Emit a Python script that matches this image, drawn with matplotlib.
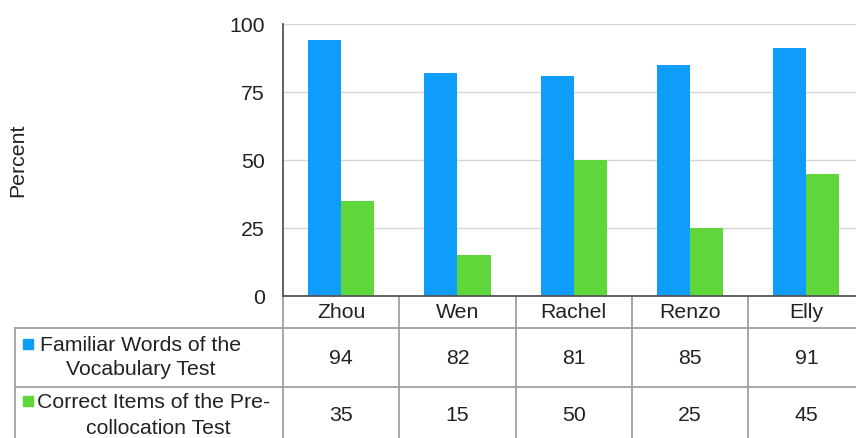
import matplotlib
matplotlib.use("Agg")
import matplotlib.pyplot as plt
import matplotlib.transforms as mtransforms
import numpy as np

plt.rcParams['font.family'] = ['Liberation Sans', 'DejaVu Sans']

categories = ["Zhou", "Wen", "Rachel", "Renzo", "Elly"]
familiar = [94, 82, 81, 85, 91]
correct = [35, 15, 50, 25, 45]
series_labels = [["Familiar Words of the", "Vocabulary Test"],
                 ["Correct Items of the Pre-", "collocation Test"]]
yticks = [0, 25, 50, 75, 100]

BLUE = "#0F9DFC"
GREEN = "#5FD63A"
LINE = "#A0A0A0"
W, H = 856, 439
FS = 15.3

fig = plt.figure(figsize=(W / 100, H / 100), dpi=100)
ax = fig.add_axes([283 / W, 1 - 297 / H, 573 / W, 272 / H])
colw_px = 116.3
ax.set_xlim(-0.5, -0.5 + 573 / colw_px)
ax.set_ylim(0, 100)

x = np.arange(len(categories))
bw = 0.285
ax.bar(x - bw / 2, familiar, width=bw, color=BLUE, zorder=3)
ax.bar(x + bw / 2, correct, width=bw, color=GREEN, zorder=3)

ax.set_yticks(yticks)
ax.set_yticklabels([str(v) for v in yticks], fontsize=FS, color="#222222")
ax.tick_params(axis='y', length=0, pad=13)
ax.set_xticks([])
ax.grid(axis='y', color="#D6D6D6", linewidth=1.0, zorder=0)
for s in ["top", "right"]:
    ax.spines[s].set_visible(False)
ax.spines["left"].set_color("#555555")
ax.spines["left"].set_linewidth(1.3)
ax.spines["bottom"].set_color("#555555")
ax.spines["bottom"].set_linewidth(1.3)
ax.spines["left"].set_zorder(5)
ax.spines["bottom"].set_zorder(5)

fig.text(18 / W, 1 - 160 / H, "Percent", rotation=90, fontsize=FS,
         ha='center', va='center', color="#222222")

# table overlay in pixel coordinates
tab = fig.add_axes([0, 0, 1, 1], zorder=-1)
tab.set_xlim(0, W)
tab.set_ylim(H, 0)
tab.axis('off')
tab.patch.set_alpha(0)
bt = mtransforms.blended_transform_factory(ax.transData, tab.transData)

for yy in [329, 388]:
    tab.plot([15, W], [yy, yy], color=LINE, lw=1.3, clip_on=False)
tab.plot([15, 15], [329, H], color=LINE, lw=1.3)
tab.plot([283, 283], [297, H], color=LINE, lw=1.3)
for i in range(len(categories)):
    bx = i + 0.5
    tab.plot([bx, bx], [297, H], color=LINE, lw=1.3, transform=bt)

for i, c in enumerate(categories):
    tab.text(i, 313, c, transform=bt, ha='center', va='center', fontsize=FS, color="#222222")
    tab.text(i, 359, str(familiar[i]), transform=bt, ha='center', va='center', fontsize=FS, color="#222222")
    tab.text(i, 416, str(correct[i]), transform=bt, ha='center', va='center', fontsize=FS, color="#222222")

row_cfg = [(BLUE, 340, (141, 141), (346, 370)), (GREEN, 397, (153.5, 158), (403, 429))]
for (col, sq_y, cxs, ys), lines in zip(row_cfg, series_labels):
    tab.add_patch(plt.Rectangle((23, sq_y), 10, 10, color=col))
    for cxp, yy, t in zip(cxs, ys, lines):
        tab.text(cxp, yy, t, ha='center', va='center', fontsize=FS, color="#222222")

fig.savefig("out.png", dpi=100)
